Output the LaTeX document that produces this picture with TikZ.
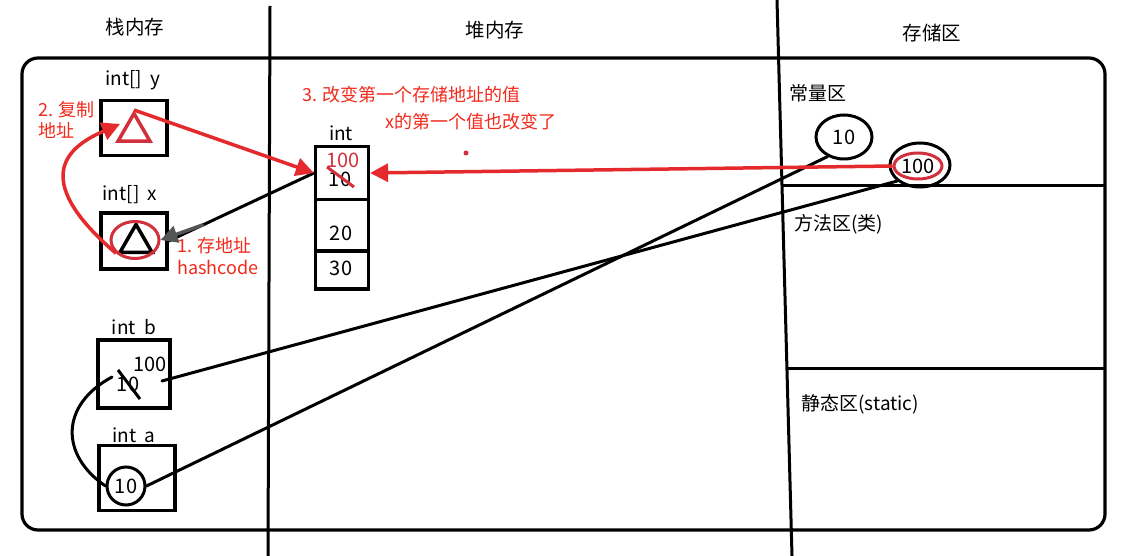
\documentclass[tikz,border=0pt]{standalone}
\usepackage{fontspec}
\setmainfont{Noto Sans CJK SC}
\usetikzlibrary{arrows.meta,shapes.geometric,calc}
\definecolor{note}{HTML}{F22A1C}
\definecolor{ink}{HTML}{D3303E}
\definecolor{arr}{HTML}{E52A2E}
\definecolor{tipgray}{HTML}{555555}
\begin{document}
\begin{tikzpicture}[x=1pt,y=-1pt,
  hd/.style={font=\fontsize{19.5}{22}\selectfont},
  lbl/.style={font=\fontsize{19}{22}\selectfont},
  val/.style={font=\fontsize{20}{22}\selectfont, inner sep=0pt},
  area/.style={font=\fontsize{19}{22}\selectfont, anchor=west},
  memo/.style={font=\fontsize{18}{21.5}\selectfont, text=note, anchor=west, align=left, inner sep=0pt},
  box/.style={draw, line width=3.2pt, minimum width=66pt, minimum height=54pt, inner sep=0pt},
  cell/.style={draw, line width=3.2pt, minimum width=53pt, inner sep=0pt},
  wire/.style={line width=3pt, line cap=round},
  redarrow/.style={draw=arr, line width=3.5pt, -{Triangle[length=18pt,width=18pt]}},
]
\useasboundingbox (0,0) rectangle (1127,556);
\fill[white] (0,0) rectangle (1127,556);

% frame and column dividers
\draw[line width=3.2pt, rounded corners=16pt] (22,58) rectangle (1105,530);
\draw[line width=3pt] (270,6) -- (268,556);
\draw[line width=3pt] (777,0) -- (792,556);
\draw[line width=3pt] (782,186) -- (1105,186);
\draw[line width=3pt] (787,368) -- (1105,368);

% column headings
\node[hd] (stackhd) at (135,27) {栈内存};
\node[hd] (heaphd) at (495,30) {堆内存};
\node[hd] (storehd) at (932,33) {存储区};

% storage areas
\node[area] (constarea) at (786,93) {常量区};
\node[area] (methodarea) at (791,224) {方法区(类)};
\node[area] (staticarea) at (798,404) {静态区(static)};

% constant pool entries
\node[draw, ellipse, line width=3pt, minimum width=56pt, minimum height=44pt, inner sep=0pt, font=\fontsize{20}{22}\selectfont] (k10) at (844,137) {10};
\node[draw, ellipse, line width=3pt, minimum width=60pt, minimum height=44pt, inner sep=0pt] (k100) at (920,165) {};
\node[draw=ink, ellipse, line width=3pt, minimum width=48pt, minimum height=26pt, inner sep=0pt, font=\fontsize{20}{22}\selectfont] (k100r) at (918,166) {100};

% stack: int[] y
\node[lbl] (yl) at (133,80) {int[]\ \ y};
\node[box, minimum height=55pt] (ybox) at (134,128) {};
\node[draw=ink, line width=3.5pt, regular polygon, regular polygon sides=3, minimum size=37pt, inner sep=0pt] (ytri) at (134,132) {};

% stack: int[] x
\node[lbl] (xl) at (130,195) {int[]\ \ x};
\node[box, minimum height=56pt] (xbox) at (134,241) {};
\node[draw, line width=3.5pt, regular polygon, regular polygon sides=3, minimum size=37pt, inner sep=0pt] (xtri) at (136,243) {};
\node[draw=ink, ellipse, line width=3pt, minimum width=48pt, minimum height=37pt, inner sep=0pt] (xring) at (135,240) {};

% stack: int b
\node[lbl] (bl) at (134,327) {int\ \ b};
\node[box, minimum width=72pt, minimum height=68pt] (bbox) at (134,374) {};
\node[val] (b100) at (150,364) {100};
\node[val] (b10) at (128,384) {10};
\draw[line width=3pt] (118,370) -- (140,399);
\coordinate (bref) at (162,381);
\coordinate (bcurl) at (112,377);

% stack: int a
\node[lbl] (al) at (134,435) {int\ \ a};
\node[box, minimum width=76pt, minimum height=65pt] (abox) at (137,478) {};
\node[draw, circle, line width=3pt, minimum size=38pt, inner sep=0pt, font=\fontsize{20}{22}\selectfont] (a10) at (126,486) {10};

% heap: int array
\node[lbl] (arrl) at (341,133) {int};
\node[cell, minimum height=53pt] (c1) at (342,173) {};
\node[cell, minimum height=51pt] (c2) at (342,225) {};
\node[cell, minimum height=38pt] (c3) at (342,270) {};
\node[val, text=ink] (c1new) at (343,160) {100};
\node[val] (c1old) at (340,179) {10};
\draw[draw=ink, line width=3pt] (327,167) -- (354,187);
\node[val] (c2v) at (341,233) {20};
\node[val] (c3v) at (341,268) {30};

% references
\draw[wire] (k10.230) -- (a10.east);
\draw[wire] (k100.215) -- (bref);
\draw[wire] (c1.west) -- (xbox.east);
\draw[draw=tipgray, line width=3.5pt, -{Triangle[length=17pt,width=17pt]}] ($(xbox.east)!0.24!(c1.west)$) -- (xring.east);
\draw[wire] (bcurl) .. controls (60,405) and (60,455) .. (a10.west);

% red annotations
\draw[redarrow] (ytri.north) -- (c1.west);
\draw[redarrow] (k100r.west) -- (c1.east);
\coordinate (ytip) at (120,124);
\draw[redarrow] (xring.215) .. controls (25,175) and (72,145) .. (ytip);
\fill[ink] (466,153) circle (2.5pt);

\node[memo] (note2) at (38,120) {2. 复制\\地址};
\node[memo] (note1) at (177,256) {1. 存地址\\hashcode};
\node[memo] (note3) at (302,95) {3. 改变第一个存储地址的值};
\node[memo] (note3b) at (385,122) {x的第一个值也改变了};
\end{tikzpicture}
\end{document}
